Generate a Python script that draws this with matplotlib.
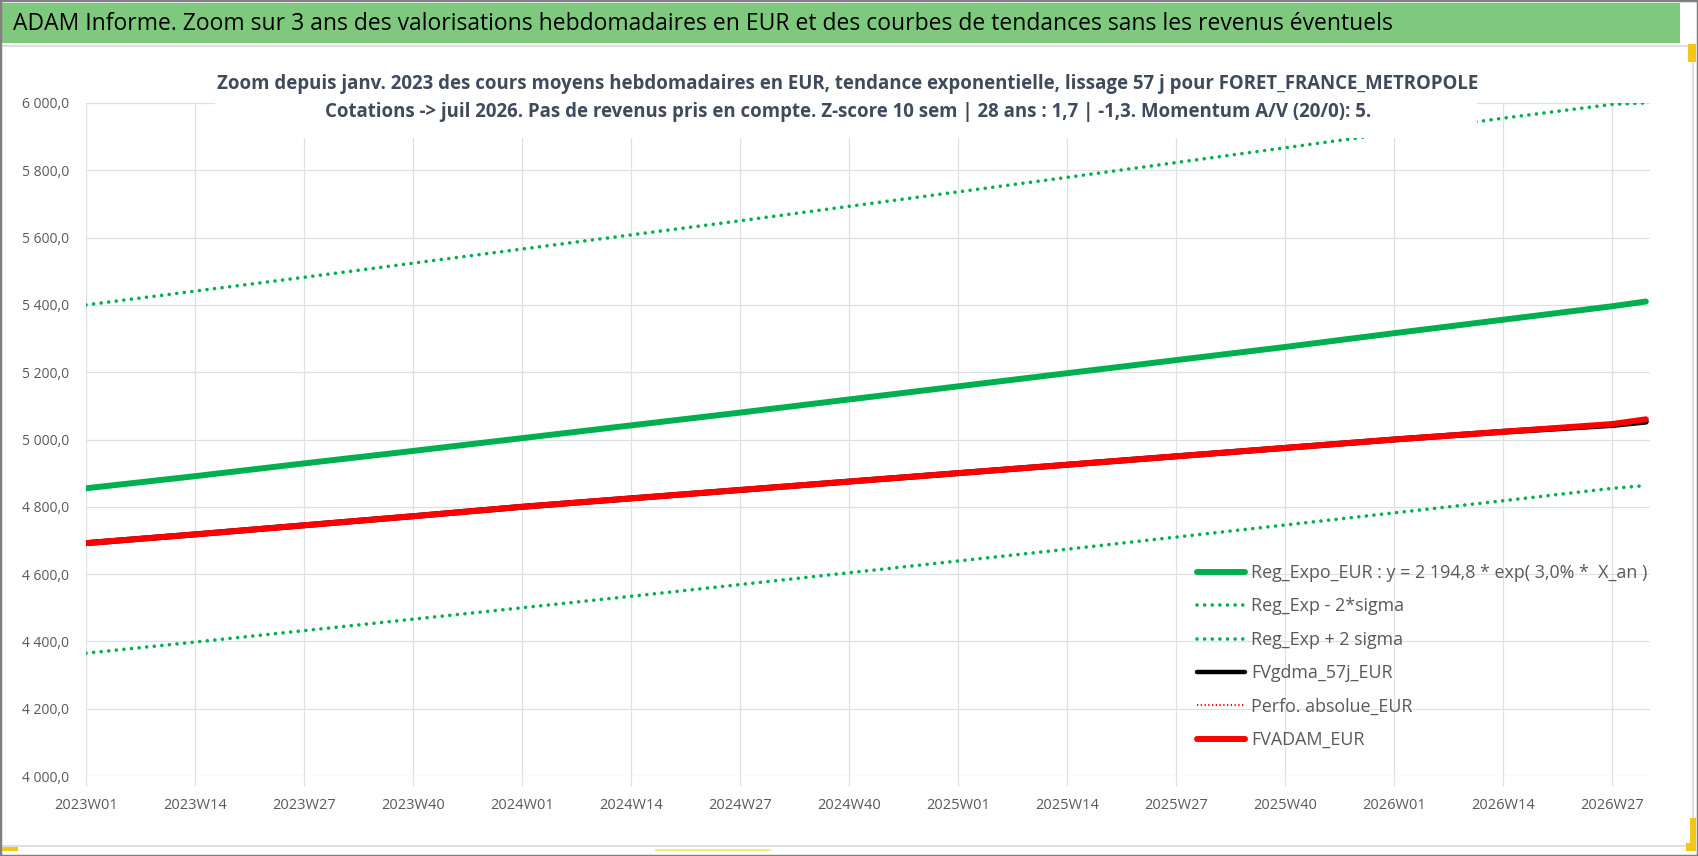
import matplotlib
matplotlib.use("Agg")
import matplotlib.pyplot as plt
from matplotlib.patches import Rectangle
from matplotlib.lines import Line2D

# ---------------- data ----------------
tick_labels = ['2023W01', '2023W14', '2023W27', '2023W40',
               '2024W01', '2024W14', '2024W27', '2024W40',
               '2025W01', '2025W14', '2025W27', '2025W40',
               '2026W01', '2026W14', '2026W27']
point_weeks = tick_labels + ['2026W31']

reg_expo = [4855, 4891, 4929, 4966, 5004, 5042, 5080, 5119,
            5158, 5197, 5236, 5275, 5316, 5356, 5396, 5410]
reg_minus = [4365, 4398, 4432, 4466, 4500, 4534, 4569, 4604,
             4639, 4674, 4710, 4746, 4782, 4818, 4855, 4863]
reg_plus = [5400, 5441, 5482, 5524, 5566, 5608, 5650, 5693,
            5736, 5779, 5823, 5867, 5911, 5955, 5996, 6000]
fvgdma = [4692, 4718, 4745, 4772, 4800, 4825, 4850, 4875,
          4900, 4925, 4950, 4975, 5000, 5023, 5043, 5053]
perfo = [4692, 4718, 4745, 4772, 4800, 4825, 4850, 4875,
         4900, 4925, 4950, 4975, 5000, 5023, 5046, 5060]
fvadam = [4692, 4718, 4745, 4772, 4800, 4825, 4850, 4875,
          4900, 4925, 4950, 4975, 5000, 5023, 5046, 5060]

y_ticks = [4000, 4200, 4400, 4600, 4800, 5000, 5200, 5400, 5600, 5800, 6000]

legend_labels = ['Reg_Expo_EUR : y = 2 194,8 * exp( 3,0% *  X_an )',
                 'Reg_Exp - 2*sigma',
                 'Reg_Exp + 2 sigma',
                 'FVgdma_57j_EUR',
                 'Perfo. absolue_EUR',
                 'FVADAM_EUR']

title = ("ADAM Informe. Zoom sur 3 ans des valorisations hebdomadaires en EUR "
         "et des courbes de tendances sans les revenus éventuels")
sub1 = ("Zoom depuis janv. 2023 des cours moyens hebdomadaires en EUR, tendance "
        "exponentielle, lissage 57 j pour FORET_FRANCE_METROPOLE")
sub2 = ("Cotations -> juil 2026. Pas de revenus pris en compte. Z-score 10 sem | "
        "28 ans : 1,7 | -1,3. Momentum A/V (20/0): 5.")


def week_index(lbl):
    return (int(lbl[:4]) - 2023) * 52 + int(lbl[5:]) - 1


# ---------------- layout ----------------
plt.rcParams['font.family'] = ['Open Sans', 'DejaVu Sans']
W, H = 1698, 856
fig = plt.figure(figsize=(W / 100, H / 100), dpi=100)
fig.patch.set_facecolor('white')


def fx(px):
    return px / W


def fy(py):
    return 1 - py / H


GREEN = '#00B050'
RED = '#FF0000'
GRID = '#DDE1E6'
TXT = '#595959'
SUB = '#3F4A5C'

ax = fig.add_axes([fx(86), fy(776), fx(1650) - fx(86), fy(103) - fy(776)])
ax.set_facecolor('none')

x = [week_index(w) for w in point_weeks]
xt = [week_index(w) for w in tick_labels]

dots = (0, (0.01, 2.1))
ax.plot(x, reg_expo, color=GREEN, lw=4.3, solid_capstyle='round', zorder=3)
ax.plot(x, reg_minus, color=GREEN, lw=2.6, linestyle=dots, dash_capstyle='round', zorder=3)
ax.plot(x, reg_plus, color=GREEN, lw=2.6, linestyle=dots, dash_capstyle='round', zorder=3)
ax.plot(x, fvgdma, color='black', lw=4.3, solid_capstyle='round', zorder=3)
ax.plot(x, perfo, color=RED, lw=1.5, linestyle=(0, (0.6, 1.2)), zorder=3)
ax.plot(x, fvadam, color=RED, lw=4.3, solid_capstyle='round', zorder=3)

ax.set_xlim(0, 186.5)
ax.set_ylim(4000, 6000)
ax.set_xticks(xt)
ax.set_xticklabels(tick_labels, fontsize=10.5, color=TXT)
ax.set_yticks(y_ticks)
ax.set_yticklabels([f"{v:,.1f}".replace(',', '\u00a0').replace('.', ',') for v in y_ticks],
                   fontsize=10, color=TXT)
for s in ax.spines.values():
    s.set_visible(False)
ax.grid(True, color=GRID, lw=0.9)
ax.set_axisbelow(True)
ax.tick_params(axis='x', length=7, width=0.9, color=GRID, pad=9)
ax.tick_params(axis='y', length=0, pad=12)

# legend
handles = [Line2D([], [], color=GREEN, lw=4.3, solid_capstyle='round'),
           Line2D([], [], color=GREEN, lw=2.6, linestyle=dots, dash_capstyle='round'),
           Line2D([], [], color=GREEN, lw=2.6, linestyle=dots, dash_capstyle='round'),
           Line2D([], [], color='black', lw=3.2, solid_capstyle='round'),
           Line2D([], [], color=RED, lw=1.5, linestyle=(0, (0.6, 1.2))),
           Line2D([], [], color=RED, lw=4.3, solid_capstyle='round')]
leg = fig.legend(handles, legend_labels, loc='upper left',
                 bbox_to_anchor=(fx(1197), fy(564)), bbox_transform=fig.transFigure,
                 frameon=False, fontsize=12.9, handlelength=2.68, handletextpad=0.35,
                 labelspacing=0.86, borderpad=0, borderaxespad=0)
for t in leg.get_texts():
    t.set_color(TXT)
leg.set_zorder(7)

# subtitle box (white, covers lines)
fig.add_artist(Rectangle((fx(215), fy(138)), fx(1477) - fx(215), fy(58) - fy(138),
                         transform=fig.transFigure, facecolor='white',
                         edgecolor='none', zorder=5))
fig.text(fx(848), fy(84), sub1, ha='center', va='center', fontsize=13.4,
         fontweight='bold', color=SUB, zorder=6)
fig.text(fx(848), fy(112), sub2, ha='center', va='center', fontsize=13.4,
         fontweight='bold', color=SUB, zorder=6)

# banner
fig.add_artist(Rectangle((fx(2), fy(43)), fx(1680) - fx(2), fy(3) - fy(43),
                         transform=fig.transFigure, facecolor='#7FC97F',
                         edgecolor='none', zorder=1))
fig.text(fx(13), fy(24), title, ha='left', va='center', fontsize=16.5,
         color='black', zorder=2)

# chart area frame
fig.add_artist(Line2D([fx(2), fx(1693)], [fy(46), fy(46)], transform=fig.transFigure,
                      color='#D9D9D9', lw=1.2))
fig.add_artist(Line2D([fx(2), fx(1693)], [fy(846), fy(846)], transform=fig.transFigure,
                      color='#D9D9D9', lw=1.2))
fig.add_artist(Line2D([fx(1693), fx(1693)], [fy(46), fy(846)], transform=fig.transFigure,
                      color='#D9D9D9', lw=1.2))
# outer border
fig.add_artist(Rectangle((0, 0), 1, 1, transform=fig.transFigure, facecolor='none',
                         edgecolor='#808080', lw=2.5, zorder=8))
# yellow selection marks
YEL = '#F5C518'
for (x0, y0, x1, y1) in [(1688, 44, 1696, 62), (1686, 843, 1696, 851), (1690, 818, 1696, 851),
                         (2, 847, 18, 851)]:
    fig.add_artist(Rectangle((fx(x0), fy(y1)), fx(x1) - fx(x0), fy(y0) - fy(y1),
                             transform=fig.transFigure, facecolor=YEL, edgecolor='none', zorder=9))
fig.add_artist(Line2D([fx(656), fx(770)], [fy(850), fy(850)], transform=fig.transFigure,
                      color='#F7E45A', lw=1.2, zorder=9))

fig.savefig('out.png', dpi=100)
